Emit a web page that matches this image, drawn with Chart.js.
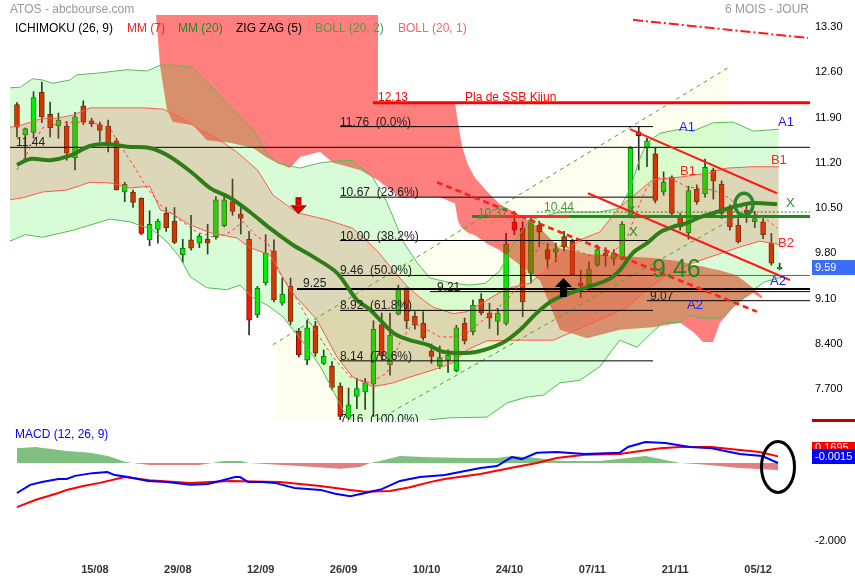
<!DOCTYPE html>
<html lang="fr">
<head>
<meta charset="utf-8">
<title>ATOS - abcbourse.com</title>
<script src="https://cdn.jsdelivr.net/npm/chart.js@4.4.1/dist/chart.umd.min.js"></script>
<style>
  html, body { margin: 0; padding: 0; background: #fff; }
  #wrap { position: relative; width: 855px; height: 580px; overflow: hidden; }
  canvas { position: absolute; left: 0; }
  #main { top: 0; }
  #macd { top: 422px; }
</style>
</head>
<body>
<div id="wrap">
  <canvas id="main" width="855" height="422"></canvas>
  <canvas id="macd" width="855" height="158"></canvas>
</div>
<script>
Chart.defaults.font.family = 'Arial, "Liberation Sans", sans-serif';

// Bougies journalières (une valeur par séance)
const opens = [12.10, 11.63, 11.67, 12.29, 11.95, 11.77, 11.77, 11.28, 12.08, 11.85,
  11.79, 11.77, 11.54, 10.75, 10.75, 10.65, 10.01, 10.17, 10.42, 10.30,
  9.78, 10.01, 9.96, 10.02, 10.06, 10.23, 10.60, 10.41, 10.02, 8.85,
  9.35, 9.84, 9.03, 9.29, 8.60, 8.15, 8.68, 8.10, 8.06, 7.75,
  7.26, 7.59, 7.66, 7.78, 8.70, 8.08, 8.86, 9.24, 8.83, 8.72,
  8.29, 8.06, 8.15, 7.99, 8.72, 8.59, 9.09, 8.88, 8.75, 8.72,
  10.29, 10.19, 9.49, 10.24, 9.86, 9.82, 10.06, 9.99, 9.34, 9.31,
  9.62, 9.81, 9.71, 9.71, 10.39, 11.68, 11.43, 11.34, 10.75, 10.98,
  10.38, 10.12, 10.79, 10.72, 11.09, 10.87, 10.48, 10.24, 10.47, 10.29,
  10.29, 9.96, 9.56];
const highs = [12.13, 11.74, 12.30, 12.45, 12.14, 11.97, 11.84, 11.98, 12.16, 11.89,
  11.83, 11.86, 11.58, 10.90, 10.78, 10.66, 10.46, 10.33, 10.51, 10.51,
  10.02, 10.39, 10.10, 10.25, 10.68, 10.69, 10.95, 10.56, 10.14, 9.29,
  10.09, 10.01, 9.42, 9.42, 8.64, 8.77, 8.75, 8.31, 8.13, 7.80,
  7.72, 7.87, 7.87, 8.76, 8.88, 8.88, 9.31, 9.27, 8.90, 8.90,
  8.40, 8.37, 8.31, 8.69, 8.80, 9.08, 9.18, 9.03, 8.95, 10.11,
  10.45, 10.29, 10.38, 10.30, 9.96, 9.96, 10.14, 10.02, 9.54, 9.67,
  9.93, 9.89, 9.86, 10.29, 11.45, 11.76, 11.58, 11.43, 11.06, 11.00,
  10.42, 10.84, 10.86, 11.26, 11.12, 10.92, 10.55, 10.34, 10.55, 10.45,
  10.34, 10.11, 9.65];
const lows = [11.60, 11.24, 11.58, 11.82, 11.60, 11.58, 11.24, 11.09, 11.79, 11.76,
  11.53, 11.37, 10.78, 10.60, 10.51, 10.09, 9.92, 9.96, 10.14, 9.95,
  9.66, 9.85, 9.89, 9.79, 10.02, 10.21, 10.39, 10.10, 8.54, 8.81,
  9.31, 9.05, 9.00, 8.70, 8.20, 8.08, 8.21, 8.08, 7.69, 7.16,
  7.18, 7.40, 7.39, 7.28, 8.15, 7.92, 8.85, 8.64, 8.63, 8.46,
  8.10, 8.02, 7.96, 7.97, 8.40, 8.54, 8.85, 8.64, 8.54, 8.69,
  10.09, 8.82, 9.34, 9.90, 9.57, 9.67, 9.83, 9.46, 9.12, 9.21,
  9.60, 9.60, 9.62, 9.70, 10.35, 11.09, 11.14, 10.58, 10.70, 10.38,
  10.16, 10.02, 10.56, 10.67, 10.64, 10.34, 10.16, 9.96, 10.28, 10.20,
  10.03, 9.62, 9.55];
const closes = [11.75, 11.73, 12.21, 11.91, 11.74, 11.86, 11.35, 11.91, 11.83, 11.80,
  11.70, 11.49, 10.78, 10.87, 10.59, 10.11, 10.25, 10.30, 10.20, 9.97,
  9.88, 9.88, 10.07, 9.96, 10.63, 10.63, 10.45, 10.34, 8.77, 9.26,
  9.80, 9.08, 9.17, 8.75, 8.23, 8.65, 8.26, 8.21, 7.73, 7.28,
  7.46, 7.71, 7.80, 8.63, 8.22, 8.54, 9.24, 8.76, 8.69, 8.50,
  8.21, 8.19, 8.23, 8.65, 8.45, 9.00, 8.88, 8.80, 8.88, 9.95,
  10.16, 9.05, 10.32, 10.13, 9.71, 9.87, 9.90, 9.47, 9.30, 9.56,
  9.86, 9.76, 9.81, 10.25, 11.43, 11.62, 11.54, 10.62, 10.90, 10.42,
  10.21, 10.77, 10.60, 11.13, 10.92, 10.42, 10.21, 9.98, 10.43, 10.34,
  10.09, 9.65, 9.59];

// Moyennes mobiles [séance, valeur]
const mm20 = [[0, 11.17], [1.6, 11.26], [4.0, 11.24], [6.4, 11.31], [8.8, 11.46], [10.9, 11.49], [13.3, 11.45], [16.0, 11.43],
  [18.1, 11.32], [20.9, 11.07], [23.3, 10.81], [25.7, 10.66], [28.1, 10.44], [30.5, 10.19], [33.3, 9.93], [35.7, 9.75],
  [38.6, 9.50], [41.0, 9.08], [42.6, 8.93], [45.4, 8.57], [47.4, 8.46], [49.5, 8.39], [51.4, 8.28], [53.4, 8.26],
  [55.5, 8.28], [58.6, 8.42], [60.7, 8.62], [62.7, 8.88], [64.7, 9.08], [67.9, 9.24], [71.2, 9.39], [72.7, 9.54],
  [74.3, 9.81], [76.0, 9.96], [77.6, 10.13], [79.1, 10.21], [80.8, 10.27], [82.4, 10.36], [84.4, 10.44], [86.4, 10.52],
  [88.8, 10.58], [91.7, 10.56]];
const mm7 = [[0, 11.09], [1.6, 11.43], [3.1, 11.74], [5.2, 11.82], [7.2, 11.83], [9.2, 11.82], [11.2, 11.74], [12.4, 11.48],
  [14.0, 11.17], [15.7, 10.81], [17.3, 10.55], [19.3, 10.35], [21.7, 10.13], [24.1, 10.04], [25.7, 10.13], [27.3, 10.29],
  [29.0, 10.05], [30.2, 9.98], [31.7, 9.50], [33.8, 9.08], [35.7, 8.66], [38.1, 8.20], [40.2, 7.89], [42.6, 7.80],
  [44.6, 7.95], [46.2, 8.42], [47.8, 8.73], [49.5, 8.62], [51.0, 8.51], [52.6, 8.51], [54.3, 8.57], [56.7, 8.82],
  [59.1, 9.08], [61.0, 9.39], [63.1, 9.96], [66.3, 9.90], [69.5, 9.75], [71.9, 9.81], [73.6, 10.05], [74.8, 10.47],
  [76.0, 10.83], [77.6, 10.98], [79.1, 10.94], [80.8, 10.83], [84.0, 10.78], [85.7, 10.67], [87.2, 10.52], [88.8, 10.43],
  [90.5, 10.32], [91.7, 10.19]];

// Bollinger (20, 2) et (20, 1)
const bb2Up = [[-0.84, 12.36], [0.4, 12.37], [1.9, 12.50], [3.1, 12.48], [4.3, 12.43], [6.4, 12.48], [7.2, 12.56], [10.0, 12.59],
  [13.3, 12.64], [15.7, 12.62], [17.3, 12.71], [18.8, 12.71], [21.2, 12.67], [22.9, 12.45], [24.5, 12.22], [26.1, 12.02],
  [27.3, 11.86], [28.5, 11.71], [29.9, 11.40], [31.4, 11.20], [34.1, 11.12], [36.6, 11.20], [38.6, 11.23], [40.5, 11.24],
  [42.9, 10.98], [44.6, 10.60], [46.6, 9.98], [48.3, 9.65], [49.8, 9.42], [52.6, 9.34], [54.6, 9.31], [56.5, 9.34],
  [58.3, 9.54], [60.1, 10.01], [61.9, 10.32], [65.5, 10.44], [70.3, 10.44], [72.7, 10.50], [73.9, 10.78], [75.2, 11.29],
  [76.0, 11.51], [77.6, 11.66], [80.0, 11.72], [81.5, 11.69], [84.0, 11.82], [86.4, 11.83], [88.8, 11.69], [91.9, 11.72]];
const bb2Low = [[-0.84, 9.99], [1.0, 10.09], [3.1, 10.05], [6.8, 10.16], [11.2, 10.33], [13.6, 10.29], [16.4, 10.16], [18.1, 9.98],
  [19.7, 9.73], [20.9, 9.44], [22.9, 9.27], [25.3, 9.24], [26.9, 9.31], [28.5, 9.11], [30.2, 9.00], [32.1, 8.82],
  [33.3, 8.62], [35.0, 8.35], [36.6, 8.05], [38.1, 7.69], [39.3, 7.38], [40.5, 7.20], [43.8, 7.07], [47.4, 7.07],
  [49.8, 7.23], [52.2, 7.26], [56.7, 7.27], [59.1, 7.49], [61.5, 7.58], [63.5, 7.61], [65.5, 7.80], [67.9, 7.84],
  [70.3, 8.05], [72.7, 8.46], [74.8, 8.35], [76.7, 8.59], [77.9, 8.73], [80.0, 8.73], [81.2, 8.85], [82.4, 8.80],
  [84.8, 8.80], [86.9, 9.03], [88.8, 9.24], [90.2, 9.36], [91.9, 9.42]];
const bb1Up = [[-0.84, 11.75], [0.7, 11.79], [3.1, 11.89], [4.8, 11.89], [6.8, 11.94], [8.8, 12.05], [15.2, 12.05], [17.6, 12.03],
  [20.0, 11.89], [21.7, 11.74], [24.1, 11.58], [26.5, 11.37], [29.0, 11.09], [30.9, 10.70], [33.8, 10.43], [37.4, 10.32],
  [40.5, 10.19], [43.4, 9.85], [45.4, 9.54], [47.0, 9.30], [48.6, 9.12], [50.2, 8.97], [52.6, 8.87], [54.3, 8.90],
  [56.7, 9.08], [58.3, 9.20], [59.8, 9.28], [61.9, 9.34], [63.7, 9.54], [65.5, 9.78], [67.9, 10.01], [70.3, 10.13],
  [72.7, 10.52], [75.2, 10.78], [76.7, 10.94], [80.0, 10.98], [83.2, 11.04], [85.7, 11.12], [88.8, 11.14], [91.9, 11.14]];
const bb1Low = [[-0.84, 10.63], [0.7, 10.66], [3.1, 10.75], [6.0, 10.78], [8.8, 10.90], [11.2, 10.89], [13.6, 10.81], [16.0, 10.84],
  [17.3, 10.47], [18.5, 10.43], [20.9, 10.24], [23.3, 10.12], [26.5, 10.04], [28.1, 9.89], [30.5, 9.78], [32.9, 9.24],
  [36.2, 8.77], [38.6, 8.20], [40.5, 7.89], [42.9, 7.74], [45.4, 7.80], [47.4, 7.89], [50.2, 8.00], [52.6, 8.11],
  [54.3, 8.31], [56.7, 8.45], [60.7, 8.46], [64.7, 8.46], [69.5, 8.73], [73.6, 8.97], [76.0, 9.24], [78.2, 9.45],
  [81.2, 9.64], [84.2, 9.77], [87.2, 9.90], [89.6, 9.99], [91.9, 9.94]];

// Nuage Ichimoku (SSB en haut, SSA en bas)
const cloudX = [16.65, 17.25, 18.09, 18.82, 21.23, 22.92, 25.69, 28.47, 30.16, 31.36, 32.93, 34.14, 36.55, 38.12,
  41.37, 43.55, 43.55, 46.2, 48.61, 51.03, 52.83, 53.2, 53.68, 54.4, 55.25, 56.69, 58.26, 60.68, 63.09, 65.5,
  68.76, 72.74, 76.72, 79.98, 81.54, 82.75, 83.96, 84.8, 86.85, 88.78, 89.87];
const cloudTop = [13.7, 13.7, 13.7, 13.7, 13.7, 13.7, 13.7, 13.7, 13.7, 13.7, 13.7, 13.7, 13.7, 13.7,
  13.7, 13.7, 12.13, 12.13, 12.13, 12.13, 12.13, 11.82, 11.46, 11.17, 10.97, 10.76, 10.56, 10.39, 10.19, 9.88,
  9.79, 9.76, 9.73, 9.68, 9.62, 9.60, 9.56, 9.54, 9.46, 9.27, 9.14];
const cloudBottom = [13.7, 12.71, 12.02, 11.83, 11.78, 11.55, 11.51, 11.43, 11.28, 11.20, 11.12, 11.29, 11.37, 11.20,
  11.09, 10.93, 10.93, 10.66, 10.67, 10.67, 10.57, 10.30, 10.19, 10.12, 10.08, 9.95, 9.85, 9.62, 9.38, 8.62,
  8.49, 8.62, 8.66, 8.73, 8.59, 8.43, 8.43, 8.73, 9.03, 9.19, 9.10];

// Tracés et niveaux
const channelHigh = [[30.88, 8.39], [85.77, 12.67]];
const channelLow = [[30.88, 6.31], [87.2, 10.40]];
const zigDash = [[50.66, 10.90], [89.26, 8.90]];
const redHigh = [[73.94, 11.72], [91.68, 10.73]];
const redLow = [[68.88, 10.73], [93.24, 9.39]];
const topDashDot = [[74.31, 13.41], [95.42, 13.13]];
const fibLevels = [11.76, 10.67, 10.00, 9.46, 8.92, 8.14, 7.16];
const fibPct = ['0.0%', '23.6%', '38.2%', '50.0%', '61.8%', '78.6%', '100.0%'];
const pivot1 = 11.44, pivot2 = 9.25, pivot3 = 9.21, pivot4 = 9.07;
const ssbPlateau = 12.13, kijun = 10.37, tenkan = 10.44, lastPrice = 9.59;

const priceTicks = [13.30, 12.60, 11.90, 11.20, 10.50, 9.80, 9.10, 8.40, 7.70];
const priceLabels = ['13.30', '12.60', '11.90', '11.20', '10.50', '9.80', '9.10', '8.400', '7.700'];
const dateLabels = ['15/08', '29/08', '12/09', '26/09', '10/10', '24/10', '07/11', '21/11', '05/12'];
const datePos = [9.4, 19.4, 29.4, 39.4, 49.4, 59.4, 69.4, 79.4, 89.4];

// MACD (12, 26, 9)
const macdLine = [[0, -0.77], [1.6, -0.56], [3.0, -0.49], [5.0, -0.41], [6.0, -0.41], [7.0, -0.33], [9.1, -0.26], [10.9, -0.23],
  [11.8, -0.31], [13.4, -0.36], [15.8, -0.46], [18.1, -0.49], [20.9, -0.56], [23.0, -0.54], [24.5, -0.46], [26.3, -0.36],
  [26.9, -0.36], [27.9, -0.49], [29.6, -0.49], [31.1, -0.51], [33.5, -0.64], [36.6, -0.69], [38.4, -0.79], [40.2, -0.85],
  [42.0, -0.77], [44.0, -0.67], [46.2, -0.46], [48.6, -0.36], [51.6, -0.31], [55.9, -0.13], [57.9, -0.08], [59.7, 0.15],
  [60.9, 0.10], [62.7, 0.26], [65.1, 0.28], [68.5, 0.23], [72.7, 0.26], [73.7, 0.41], [75.8, 0.54], [78.2, 0.51],
  [81.2, 0.41], [83.8, 0.38], [86.0, 0.28], [87.2, 0.23], [89.9, 0.18], [91.8, 0.0]];
const signalLine = [[0, -1.13], [2.2, -0.95], [5.0, -0.77], [6.0, -0.69], [8.0, -0.59], [10.0, -0.51], [13.0, -0.36], [16.0, -0.44],
  [20.9, -0.51], [25.7, -0.46], [31.7, -0.49], [36.6, -0.59], [40.2, -0.69], [42.0, -0.74], [45.0, -0.72], [47.4, -0.62],
  [49.8, -0.49], [51.6, -0.41], [55.9, -0.28], [59.5, -0.13], [62.7, 0.0], [65.1, 0.13], [68.5, 0.21], [72.7, 0.23],
  [75.2, 0.31], [77.6, 0.38], [80.0, 0.41], [83.8, 0.41], [86.0, 0.36], [89.6, 0.28], [91.8, 0.17]];
const histo = [[0, 0.38], [2.2, 0.41], [6.0, 0.31], [8.8, 0.26], [11.0, 0.18], [13.0, 0.03], [14.0, 0], [16.0, -0.05],
  [22.0, -0.05], [23.5, 0], [25.0, 0.05], [27.0, 0.05], [28.0, 0], [30.5, -0.03], [34.0, -0.08], [39.0, -0.15],
  [41.4, -0.10], [42.6, 0], [43.8, 0.05], [46.2, 0.18], [49.8, 0.15], [54.6, 0.13], [57.9, 0.13], [59.7, 0.18],
  [61.9, 0.15], [65.5, 0.05], [70.3, 0.05], [75.8, 0.18], [80.0, 0], [82.4, -0.03], [87.2, -0.13], [91.8, -0.18]];
const macdLast = '-0.0015', signalLast = '0.1695';

// ---------------------------------------------------------------
const pts = arr => arr.map(([x, y]) => ({ x, y }));
const hseg = (x1, x2, y) => [{ x: x1, y }, { x: x2, y }];
const line = (data, color, width, more) => Object.assign({
  type: 'line', data, borderColor: color, borderWidth: width,
  pointRadius: 0, fill: false, tension: 0, order: 50
}, more);
const NONE = 'rgba(0,0,0,0)';
const XL = -0.84, XR = 95.66;

const up = closes.map((c, k) => c >= opens[k]);
const sets = [];
const add = d => sets.push(d) - 1;

// fond crème du canal
const chLowIdx = add(line(pts(channelLow), NONE, 1, { order: 201 }));
add(line(pts(channelHigh), NONE, 1, { fill: chLowIdx, backgroundColor: '#fffff0', order: 200 }));

// bougies
add({
  type: 'bar', order: 150, grouped: false, barThickness: 1,
  data: lows.map((l, k) => ({ x: k, y: [l, highs[k]] })),
  backgroundColor: '#2a2a2a'
});
add({
  type: 'bar', order: 140, grouped: false, barThickness: 5,
  data: opens.map((o, k) => ({ x: k, y: [o, closes[k]] })),
  backgroundColor: up.map(u => u ? '#00f000' : '#ff1400'),
  borderColor: up.map(u => u ? '#167016' : '#7a1000'),
  borderWidth: 1, borderSkipped: false
});

// nuage
const clLow = add(line(cloudX.map((x, k) => ({ x, y: cloudBottom[k] })), NONE, 1, { order: 131 }));
add(line(cloudX.map((x, k) => ({ x, y: cloudTop[k] })), NONE, 1,
  { fill: clLow, backgroundColor: 'rgba(255,0,0,0.5)', order: 130 }));

// bandes de Bollinger
const b2lo = add(line(pts(bb2Low), '#5cb85c', 1, { order: 121 }));
add(line(pts(bb2Up), '#5cb85c', 1, { fill: b2lo, backgroundColor: 'rgba(0,235,0,0.153)', order: 120 }));
const b1lo = add(line(pts(bb1Low), '#ff5a50', 1, { order: 111 }));
add(line(pts(bb1Up), '#ff5a50', 1, { fill: b1lo, backgroundColor: 'rgba(240,72,60,0.2)', order: 110 }));

// canal vert pointillé
add(line(pts(channelHigh), '#3aa83a', 1, { borderDash: [4, 4], order: 60 }));
add(line(pts(channelLow), '#3aa83a', 1, { borderDash: [4, 4], order: 60 }));

// niveaux horizontaux
fibLevels.forEach(v => add(line(hseg(38.96, 76.72, v), '#000', 1, { order: 40 })));
add(line(hseg(76.72, XR, fibLevels[3]), '#2a8a2a', 1, { order: 40 }));
add(line(hseg(XL, XR, pivot1), '#000', 1, { order: 40 }));
add(line(hseg(33.78, XR, pivot2), '#000', 2, { order: 40 }));
add(line(hseg(49.82, XR, pivot3), '#000', 1, { order: 40 }));
add(line(hseg(76.0, XR, pivot4), '#000', 1, { order: 40 }));
add(line(hseg(42.94, XR, ssbPlateau), '#ff0000', 3, { order: 35 }));
add(line(hseg(62.7, XR, tenkan), '#2a7a2a', 1, { borderDash: [2, 2], order: 36 }));
add(line(hseg(54.9, XR, kijun), '#1e8c1e', 3, { order: 35 }));
add(line(hseg(56.8, 66.7, kijun), '#ff2a2a', 3, { order: 34 }));

// droites tracées
add(line(pts(zigDash), '#ff2020', 2.5, { borderDash: [6, 4], order: 30 }));
add(line(pts(redHigh), '#ff1a1a', 2, { order: 30 }));
add(line(pts(redLow), '#ff1a1a', 2, { order: 30 }));
add(line(pts(topDashDot), '#ff1a1a', 2, { borderDash: [10, 3, 2, 3], order: 30 }));

// moyennes mobiles
add(line(pts(mm7), '#ff3a3a', 1, { borderDash: [3, 3], order: 20 }));
add(line(pts(mm20), '#2e7d16', 4, { tension: 0.3, order: 10 }));

function txt(ctx, s, x, y, color, font, align, base) {
  ctx.save();
  ctx.fillStyle = color;
  ctx.font = font;
  ctx.textAlign = align || 'left';
  ctx.textBaseline = base || 'alphabetic';
  ctx.fillText(s, x, y);
  ctx.restore();
}

const mainNotes = {
  id: 'mainNotes',
  afterDatasetsDraw(chart) {
    const { ctx } = chart;
    const X = v => chart.scales.x.getPixelForValue(v);
    const Y = v => chart.scales.y.getPixelForValue(v);
    const f12 = '12px Arial';
    fibLevels.forEach((v, k) => txt(ctx, v.toFixed(2) + '  (' + fibPct[k] + ')', X(38.96), Y(v) - 1, '#222', f12));
    txt(ctx, pivot1.toFixed(2), X(-0.12), Y(pivot1) - 1, '#222', f12);
    txt(ctx, pivot2.toFixed(2), X(34.5), Y(pivot2) - 2, '#222', f12);
    txt(ctx, pivot3.toFixed(2), X(50.66), Y(pivot3) - 1, '#222', f12);
    txt(ctx, pivot4.toFixed(2), X(76.36), Y(pivot4) - 1, '#222', f12);
    txt(ctx, ssbPlateau.toFixed(2), X(43.55), Y(ssbPlateau) - 2, '#ff0000', f12);
    txt(ctx, 'Pla de SSB Kijun', X(54.04), Y(ssbPlateau) - 2, '#ff0000', f12);
    txt(ctx, kijun.toFixed(2), X(55.6), Y(kijun), '#3a9a3a', f12);
    txt(ctx, tenkan.toFixed(2), X(63.57), Y(tenkan) - 1, '#3a9a3a', f12);
    txt(ctx, fibLevels[3].toFixed(2), X(76.6), Y(fibLevels[3]) + 1.5, '#1e8a1e', '25px Arial');

    const f13 = '13px Arial';
    txt(ctx, 'A1', X(79.86), Y(11.74), '#2020ff', f13, 'left', 'middle');
    txt(ctx, 'A1', X(91.8), Y(11.83), '#2020ff', f13, 'left', 'middle');
    txt(ctx, 'B1', X(79.98), Y(11.06), '#ff2020', f13, 'left', 'middle');
    txt(ctx, 'B1', X(90.95), Y(11.23), '#ff2020', f13, 'left', 'middle');
    txt(ctx, 'B2', X(91.8), Y(9.96), '#ff2020', f13, 'left', 'middle');
    txt(ctx, 'A2', X(90.83), Y(9.36), '#2020ff', f13, 'left', 'middle');
    txt(ctx, 'A2', X(80.82), Y(8.99), '#2020ff', f13, 'left', 'middle');
    txt(ctx, 'x', X(73.82), Y(10.47), '#2a8a2a', '12px Arial', 'left', 'middle');
    txt(ctx, 'X', X(73.82), Y(10.13), '#2a8a2a', f13, 'left', 'middle');
    txt(ctx, 'X', X(92.76), Y(10.58), '#2a8a2a', f13, 'left', 'middle');

    // cercle vert
    ctx.save();
    ctx.strokeStyle = '#2a8a2a';
    ctx.lineWidth = 3.5;
    ctx.beginPath();
    ctx.ellipse(X(87.7), Y(10.56), 9, 11, 0, 0, Math.PI * 2);
    ctx.stroke();

    // flèche rouge vers le bas
    let cx = X(33.96), top = Y(10.67);
    ctx.fillStyle = '#cc0000';
    ctx.fillRect(cx - 3, top, 6, 8);
    ctx.beginPath();
    ctx.moveTo(cx - 8.5, top + 8); ctx.lineTo(cx + 8.5, top + 8); ctx.lineTo(cx, top + 17);
    ctx.closePath(); ctx.fill();

    // flèche noire vers le haut
    cx = X(65.92); top = Y(9.42);
    ctx.fillStyle = '#000';
    ctx.beginPath();
    ctx.moveTo(cx, top); ctx.lineTo(cx + 8.5, top + 9); ctx.lineTo(cx - 8.5, top + 9);
    ctx.closePath(); ctx.fill();
    ctx.fillRect(cx - 3.5, top + 9, 7, 10);
    ctx.restore();
  },
  afterDraw(chart) {
    const { ctx } = chart;
    const Y = v => chart.scales.y.getPixelForValue(v);
    txt(ctx, 'ATOS - abcbourse.com', 10, 13, '#999', '12px Arial');
    txt(ctx, '6 MOIS - JOUR', 809, 13, '#999', '12px Arial', 'right');
    [['ICHIMOKU (26, 9)', '#000', 15], ['MM (7)', '#ff2020', 127], ['MM (20)', '#228a22', 178],
     ['ZIG ZAG (5)', '#000', 236], ['BOLL (20, 2)', '#4aa04a', 315], ['BOLL (20, 1)', '#ff6060', 398]]
      .forEach(([s, c, x]) => txt(ctx, s, x, 32, c, '12px Arial'));
    const yp = Y(lastPrice);
    ctx.fillStyle = '#3d6cf5';
    ctx.fillRect(812, yp - 7, 43, 15);
    txt(ctx, lastPrice.toFixed(2), 815, yp + 0.5, '#fff', '11px Arial', 'left', 'middle');
    ctx.fillStyle = '#c00000';
    ctx.fillRect(812, 419, 43, 3);
  }
};

new Chart(document.getElementById('main'), {
  type: 'line',
  data: { datasets: sets },
  options: {
    responsive: false, animation: false, events: [],
    layout: { padding: { left: 10, right: 0, top: 15, bottom: 2 } },
    plugins: { legend: { display: false }, tooltip: { enabled: false } },
    scales: {
      x: { type: 'linear', min: XL, max: XR, display: false, offset: false },
      y: {
        type: 'linear', position: 'right', min: 7.226, max: 13.485,
        grid: { display: false, drawTicks: false }, border: { display: false },
        ticks: { padding: 5, color: '#000', font: { size: 11 }, callback: (v, k) => priceLabels[k] },
        afterBuildTicks: s => { s.ticks = priceTicks.map(v => ({ value: v })); },
        afterFit: s => { s.width = 45; s.paddingTop = 0; s.paddingBottom = 0; }
      }
    }
  },
  plugins: [mainNotes]
});

// --------------------------- MACD ------------------------------
const macdNotes = {
  id: 'macdNotes',
  afterDraw(chart) {
    const { ctx } = chart;
    const X = v => chart.scales.x.getPixelForValue(v);
    const Y = v => chart.scales.y.getPixelForValue(v);
    txt(ctx, 'MACD (12, 26, 9)', 15, 15.5, '#0000ff', '12px Arial');
    ctx.fillStyle = '#ff0000';
    ctx.fillRect(812, 20, 43, 11);
    txt(ctx, signalLast, 815, 29, '#fff', '11px Arial');
    ctx.fillStyle = '#0000ff';
    ctx.fillRect(812, 27, 43, 15);
    txt(ctx, macdLast, 815, 35, '#fff', '11px Arial', 'left', 'middle');
    ctx.save();
    ctx.strokeStyle = '#000';
    ctx.lineWidth = 3;
    ctx.beginPath();
    ctx.ellipse(X(91.8), Y(-0.10), 16.5, 25.5, 0, 0, Math.PI * 2);
    ctx.stroke();
    ctx.restore();
  }
};

new Chart(document.getElementById('macd'), {
  type: 'line',
  data: {
    datasets: [
      line(pts(histo), NONE, 1, {
        fill: { target: 'origin', above: 'rgba(0,128,0,0.5)', below: 'rgba(200,0,0,0.5)' }, order: 3
      }),
      line(pts(signalLine), '#ff0000', 2, { order: 2 }),
      line(pts(macdLine), '#0000ff', 2, { order: 1 })
    ]
  },
  options: {
    responsive: false, animation: false, events: [],
    layout: { padding: { left: 10, right: 0, top: 3, bottom: 0 } },
    plugins: { legend: { display: false }, tooltip: { enabled: false } },
    scales: {
      x: {
        type: 'linear', min: XL, max: XR, offset: false,
        grid: { display: false, drawTicks: false }, border: { display: false },
        ticks: { padding: 8, color: '#333', autoSkip: false, maxRotation: 0,
          font: { size: 11, weight: 'bold' }, callback: (v, k) => dateLabels[k] },
        afterBuildTicks: s => { s.ticks = datePos.map(v => ({ value: v })); },
        afterFit: s => { s.height = 25; s.paddingLeft = 0; s.paddingRight = 0; }
      },
      y: {
        type: 'linear', position: 'right', min: -2.359, max: 0.974,
        grid: { display: false, drawTicks: false }, border: { display: false },
        ticks: { padding: 5, color: '#000', font: { size: 11 }, callback: () => '-2.000' },
        afterBuildTicks: s => { s.ticks = [{ value: -2 }]; },
        afterFit: s => { s.width = 45; s.paddingTop = 0; s.paddingBottom = 0; }
      }
    }
  },
  plugins: [macdNotes]
});
</script>
</body>
</html>
